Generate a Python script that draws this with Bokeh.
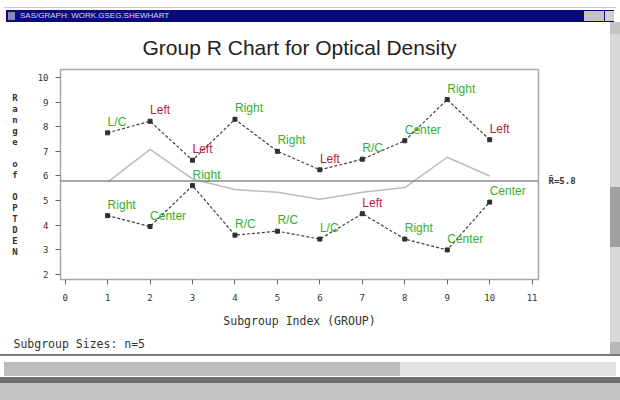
from bokeh.plotting import figure
from bokeh.models import (ColumnDataSource, Span, FixedTicker, Range1d, Title, LinearAxis, Div)
from bokeh.layouts import column, row
from bokeh.core.properties import value
from bokeh.embed import file_html
from bokeh.resources import INLINE

# ---- data ----
groups = [1, 2, 3, 4, 5, 6, 7, 8, 9, 10]
upper_range = [7.75, 8.22, 6.64, 8.30, 7.00, 6.25, 6.68, 7.43, 9.10, 7.47]
upper_labels = ["L/C", "Left", "Left", "Right", "Right", "Left", "R/C", "Center", "Right", "Left"]
lower_range = [4.39, 3.95, 5.61, 3.60, 3.76, 3.44, 4.47, 3.44, 3.00, 4.94]
lower_labels = ["Right", "Center", "Right", "R/C", "R/C", "L/C", "Left", "Right", "Center", "Center"]
limit_line = [5.75, 7.08, 5.88, 5.45, 5.34, 5.06, 5.34, 5.53, 6.76, 6.00]
center_value = 5.8
x_ticks = [0, 1, 2, 3, 4, 5, 6, 7, 8, 9, 10, 11]
y_ticks = [2, 3, 4, 5, 6, 7, 8, 9, 10]

GREEN = "#33b033"
RED = "#b8203a"
label_color = {"Left": RED}
mono = "DejaVu Sans Mono"
INK = "#333333"

FW, FH = 608, 332
p = figure(width=FW, height=FH, output_backend="svg", toolbar_location=None,
           x_range=Range1d(-0.11, 11.15), y_range=Range1d(1.80, 10.32),
           min_border_left=60, min_border_right=70, min_border_top=45, min_border_bottom=72)
p.background_fill_color = "white"
p.border_fill_color = "white"
p.outline_line_color = "#a8a8a8"
p.outline_line_width = 1.5
p.grid.visible = False

# title
p.title.text = "Group R Chart for Optical Density"
p.title.align = "center"
p.title.offset = 9
p.title.standoff = 22
p.title.text_font = "Liberation Sans"
p.title.text_font_style = "normal"
p.title.text_font_size = "21px"
p.title.text_color = "#222222"

for ax in (p.xaxis[0], p.yaxis[0]):
    ax.axis_line_color = None
    ax.major_tick_line_color = "#666666"
    ax.minor_tick_line_color = None
    ax.major_tick_in = 0
    ax.major_tick_out = 5
    ax.major_label_text_font = mono
    ax.major_label_text_font_size = "9px"
    ax.major_label_text_color = INK
    ax.axis_label_text_font = mono
    ax.axis_label_text_font_style = "normal"
    ax.axis_label_text_color = INK
p.xaxis.ticker = FixedTicker(ticks=x_ticks)
p.yaxis.ticker = FixedTicker(ticks=y_ticks)
p.xaxis.major_label_standoff = 9
p.yaxis.major_label_standoff = 7
p.xaxis.axis_label = "Subgroup Index (GROUP)"
p.xaxis.axis_label_text_font_size = "11.5px"
p.xaxis.axis_label_standoff = 10
p.yaxis.axis_label = "\n".join(list("Range of OPTDEN"))
p.yaxis.axis_label_orientation = "horizontal"
p.yaxis.axis_label_text_font_size = "9px"
p.yaxis.axis_label_text_font_style = "bold"
p.yaxis.axis_label_text_line_height = 1.1
p.yaxis.axis_label_standoff = 17

# right-hand axis carrying the centre-line label
rax = LinearAxis(ticker=FixedTicker(ticks=[center_value]),
                 major_label_overrides={center_value: "R\u0304=5.8"},
                 axis_line_color=None, major_tick_line_color=None, minor_tick_line_color=None,
                 major_tick_in=0, major_tick_out=0, major_label_standoff=10,
                 major_label_text_font=mono, major_label_text_font_size="9px",
                 major_label_text_font_style="bold", major_label_text_color=INK)
p.add_layout(rax, "right")

# footnote
p.add_layout(Title(text="Subgroup Sizes:  n=5", align="left", offset=-47, standoff=8,
                   text_font=mono, text_font_style="normal", text_font_size="11.5px",
                   text_color=INK), "below")

# centre line
p.add_layout(Span(location=center_value, dimension="width", line_color="#8a8a8a", line_width=1.5))

# gray line
p.line(groups, limit_line, line_color="#bcbcbc", line_width=1.5)

# data series
for vals, labs in ((upper_range, upper_labels), (lower_range, lower_labels)):
    src = ColumnDataSource(dict(x=groups, y=vals, t=labs,
                                c=[label_color.get(l, GREEN) for l in labs]))
    p.line("x", "y", source=src, line_color="#404040", line_width=1.2, line_dash="3 2")
    p.scatter("x", "y", source=src, marker="square", size=4, color="#303030")
    p.text("x", "y", text="t", source=src, text_color="c", x_offset=0, y_offset=-4,
           text_align="left", text_baseline="bottom",
           text_font=value("Liberation Sans"), text_font_size="12px")

# ---- window chrome ----
top_bar = Div(width=620, height=22, margin=(0, 0, 0, 0), text=(
    '<div style="width:620px;height:22px;position:relative;background:#fff;overflow:hidden">'
    '<div style="position:absolute;left:4px;top:7px;width:612px;height:1px;background:#c8c8e0"></div>'
    '<div style="position:absolute;left:6px;top:10px;width:608px;height:12px;background:#0a0a7a;'
    'color:#d8d8f0;font:8px \'Liberation Sans\';line-height:12px;padding-left:14px;box-sizing:border-box">'
    'SAS/GRAPH: WORK.GSEG.SHEWHART</div>'
    '<div style="position:absolute;left:8px;top:12px;width:7px;height:8px;background:#8a8ab8"></div>'
    '<div style="position:absolute;left:584px;top:11px;width:20px;height:10px;background:#c4c4c4"></div>'
    '<div style="position:absolute;left:605px;top:11px;width:9px;height:10px;background:#d0d0d0"></div>'
    '</div>'))

side_bar = Div(width=12, height=FH, margin=(0, 0, 0, 0), text=(
    '<div style="width:12px;height:%dpx;position:relative;background:#fff;overflow:hidden">'
    '<div style="position:absolute;left:2px;top:0;width:10px;height:%dpx;background:#d8d8d8"></div>'
    '<div style="position:absolute;left:2px;top:0;width:10px;height:12px;background:#c4c4c4"></div>'
    '<div style="position:absolute;left:2px;top:165px;width:10px;height:60px;background:#a0a0a0"></div>'
    '<div style="position:absolute;left:2px;top:%dpx;width:10px;height:12px;background:#b8b8b8"></div>'
    '</div>' % (FH, FH, FH - 12)))

bottom_bar = Div(width=620, height=46, margin=(0, 0, 0, 0), text=(
    '<div style="width:620px;height:46px;position:relative;background:#fff;overflow:hidden">'
    '<div style="position:absolute;left:0;top:0;width:620px;height:2px;background:#7a7a7a"></div>'
    '<div style="position:absolute;left:4px;top:8px;width:612px;height:14px;background:#e2e2e2"></div>'
    '<div style="position:absolute;left:4px;top:8px;width:396px;height:14px;background:#bcbcbc"></div>'
    '<div style="position:absolute;left:0;top:23px;width:620px;height:6px;background:#6e6e6e"></div>'
    '<div style="position:absolute;left:0;top:29px;width:620px;height:17px;background:#c4c4c4"></div>'
    '</div>'))

layout = column(top_bar, row(p, side_bar, spacing=0), bottom_bar, spacing=0)

open("out.html", "w").write(file_html(layout, INLINE))
